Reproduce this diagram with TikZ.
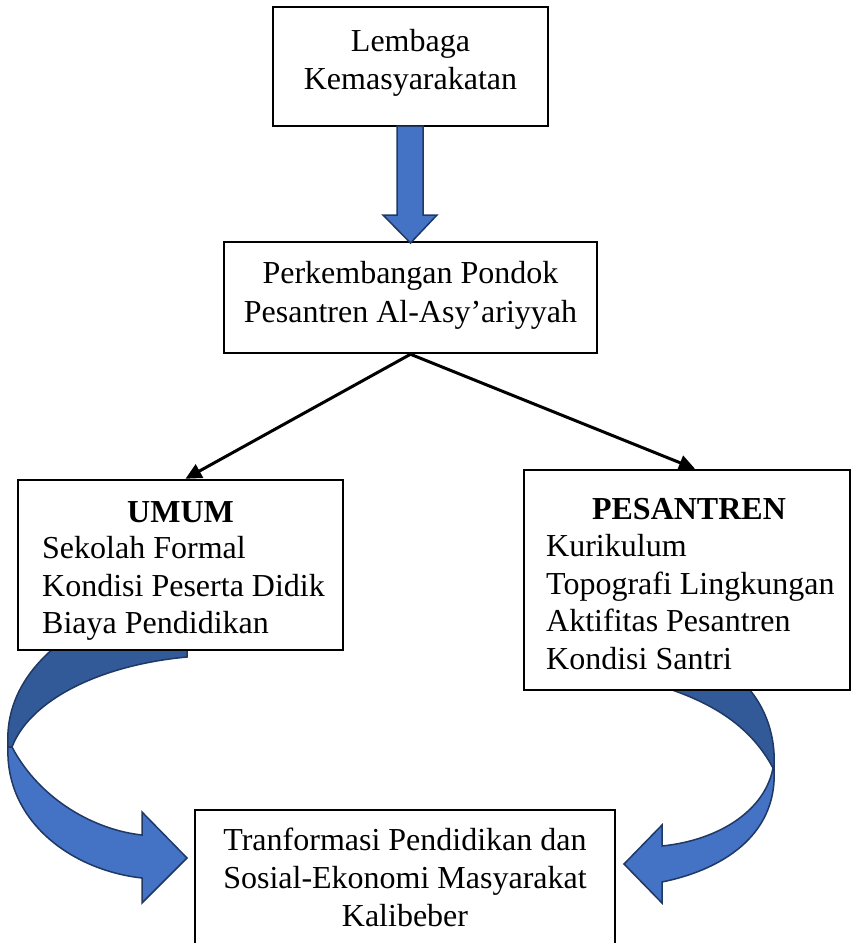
\documentclass[tikz,border=0pt]{standalone}
\usepackage{fontspec}
\setmainfont{Liberation Serif}
\usetikzlibrary{arrows.meta}
\definecolor{arrowblue}{HTML}{4472C4}
\definecolor{arrowdark}{HTML}{325A99}
\definecolor{arrowline}{HTML}{1F3864}
\tikzset{
  box/.style={draw=black, line width=2.5pt, fill=white, inner sep=0pt},
  txt/.style={inner sep=0pt, font=\fontsize{32}{38}\selectfont, align=center},
  ltxt/.style={inner sep=0pt, font=\fontsize{32}{37.5}\selectfont, align=left},
  frontarrow/.style={draw=arrowline, line width=1.5pt, fill=arrowblue, line join=miter},
  backarrow/.style={draw=arrowline, line width=1.5pt, fill=arrowdark, line join=miter},
  conn/.style={line width=3pt, -{Triangle[length=16pt,width=15pt]}}
}
\begin{document}
\begin{tikzpicture}[x=1pt,y=-1pt]
\useasboundingbox (0,0) rectangle (852,943);
\clip (0,0) rectangle (852,943);
\fill[white] (0,0) rectangle (852,943);

% left curved arrow (behind UMUM box)
\path[backarrow] (8,747) .. controls (5,700) and (30,662) .. (75,632) -- (187,632) -- (187,657)
   .. controls (100,665) and (30,700) .. (12,747) -- cycle;
\path[frontarrow] (12,747) .. controls (40,800) and (95,830) .. (142,835) -- (142,812) -- (187,858)
   -- (142,903) -- (142,878) .. controls (70,870) and (5,820) .. (8,747) -- cycle;

% right curved arrow (behind PESANTREN box)
\path[backarrow] (774,768) .. controls (776,735) and (765,700) .. (735,675) -- (650,675) -- (650,683)
   .. controls (710,700) and (750,725) .. (773,768) -- cycle;
\path[frontarrow] (773,768) .. controls (765,810) and (720,840) .. (662,846) -- (662,825) -- (624,864)
   -- (662,903) -- (662,882) .. controls (730,868) and (778,830) .. (774,768) -- cycle;

% boxes
\node[box, minimum width=275pt, minimum height=119pt] (b1) at (410.5,66.5) {};
\node[box, minimum width=373pt, minimum height=111pt] (b2) at (410.5,297.5) {};
\node[box, minimum width=325pt, minimum height=170pt] (b3) at (180.5,565) {};
\node[box, minimum width=326pt, minimum height=220pt] (b4) at (687,580) {};
\node[box, minimum width=420pt, minimum height=170pt] (b5) at (405,895) {};

% top block arrow
\path[frontarrow] (397,126) -- (423,126) -- (423,215) -- (437,215) -- (410.5,243) -- (383,215) -- (397,215) -- cycle;

% connectors
\draw[conn] (b2.south) -- ([xshift=5pt]b3.north);
\draw[conn] (b2.south) -- ([xshift=8pt]b4.north);

% texts
\node[txt, anchor=north] (t1) at (410.5,24.4) {\strut Lembaga\\Kemasyarakatan};
\node[txt, anchor=north, font=\fontsize{32}{39}\selectfont] (t2) at (410.5,255.7) {\strut Perkembangan Pondok\\Pesantren Al-Asy’ariyyah};
\node[txt, anchor=north] (t3h) at (180.5,495.4) {\strut\bfseries UMUM};
\node[ltxt, anchor=north west] (t3) at (42,532.4) {\strut Sekolah Formal\\Kondisi Peserta Didik\\Biaya Pendidikan};
\node[txt, anchor=north] (t4h) at (689,492.4) {\strut\bfseries PESANTREN};
\node[ltxt, anchor=north west] (t4) at (546,530.4) {\strut Kurikulum\\Topografi Lingkungan\\Aktifitas Pesantren\\Kondisi Santri};
\node[txt, anchor=north] (t5) at (405,823.4) {\strut Tranformasi Pendidikan dan\\Sosial-Ekonomi Masyarakat\\Kalibeber};
\end{tikzpicture}
\end{document}
